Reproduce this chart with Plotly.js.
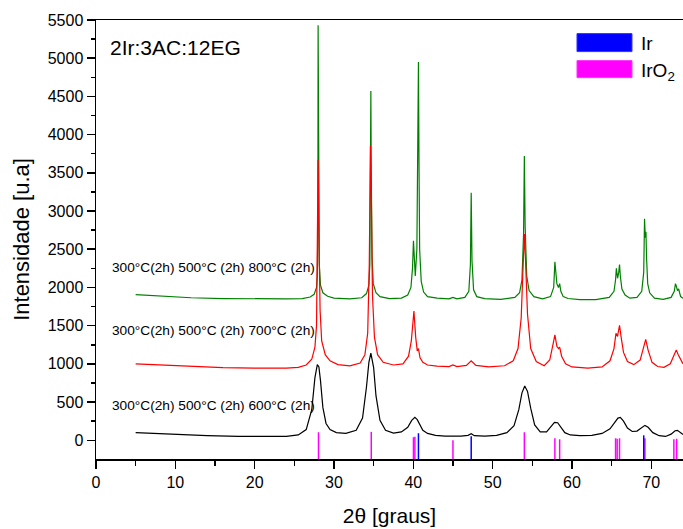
<!DOCTYPE html>
<html>
<head>
<meta charset="utf-8">
<script src="https://cdn.plot.ly/plotly-3.0.1.min.js"></script>
<style>html,body{margin:0;padding:0;background:#fff;}#chart{width:683px;height:529px;}</style>
</head>
<body>
<div id="chart"></div>
<script>
// ---- Data (2θ in degrees, intensity in a.u., offset as plotted) ----
const x800 = [5,8,12,16,20,24,26,27,27.5,27.8,27.9,27.97,28.0,28.05,28.15,28.3,28.6,29.2,30,32,33.5,34.1,34.4,34.52,34.6,34.65,34.7,34.8,34.95,35.3,35.8,37,38.5,39.3,39.7,39.9,40.02,40.08,40.15,40.25,40.45,40.55,40.65,40.72,40.8,41.0,41.3,41.8,43,44.5,45,45.5,46.5,47.0,47.2,47.3,47.4,47.6,48.0,49,51,52.8,53.4,53.7,53.9,54.0,54.1,54.3,54.6,55.2,56.3,57.3,57.7,57.85,57.95,58.1,58.3,58.45,58.6,58.9,59.5,61,63,64.7,65.3,65.5,65.6,65.75,65.9,66.0,66.1,66.3,66.7,67.3,68.2,68.8,69.05,69.15,69.25,69.33,69.4,69.55,69.8,70.4,71.5,72.5,72.9,73.05,73.15,73.3,73.45,73.7,74];
const y800 = [1905,1885,1865,1855,1850,1850,1855,1875,1910,2000,2150,2800,5430,3400,2300,2030,1930,1885,1860,1850,1865,1920,2030,2300,3200,4570,3500,2400,2050,1930,1880,1855,1860,1900,2000,2250,2610,2450,2200,2150,2500,3500,4950,3600,2500,2080,1940,1880,1860,1850,1870,1850,1870,1950,2300,3240,2350,1970,1880,1855,1845,1870,1930,2100,2700,3720,2800,2150,1960,1880,1850,1880,2000,2335,2200,2050,2000,2050,1950,1880,1855,1840,1840,1870,1950,2100,2250,2120,2200,2300,2150,1980,1900,1860,1870,1950,2200,2900,2650,2730,2400,2050,1930,1860,1845,1870,1950,2050,2020,1960,1980,1880,1860];

const x700 = [5,8,12,16,20,24,25.5,26.5,27.2,27.6,27.8,27.92,28.0,28.1,28.25,28.45,28.9,29.5,30.5,32,33.3,33.9,34.25,34.45,34.6,34.7,34.85,35.1,35.5,36.2,37.5,38.7,39.4,39.75,39.95,40.08,40.3,40.5,40.65,40.85,41.2,41.8,43,44.5,45,45.5,46.7,47.3,47.9,49.5,51.5,52.6,53.2,53.6,53.85,54.0,54.15,54.4,54.8,55.5,56.5,57.2,57.6,57.85,58.1,58.3,58.45,58.7,59.2,60,62,63.8,64.8,65.3,65.55,65.75,65.85,66.0,66.2,66.5,67.0,67.8,68.6,69.0,69.3,69.6,70.1,70.8,71.6,72.4,72.9,73.15,73.4,73.7,74];
const y700 = [1000,985,965,950,945,945,955,985,1060,1220,1500,2500,3670,2700,1700,1300,1120,1040,990,975,1010,1120,1400,2300,3850,3300,1900,1350,1120,1020,985,1000,1100,1300,1600,1690,1350,1170,1200,1080,1020,985,970,965,985,965,980,1040,980,960,975,1040,1200,1600,2300,2700,2350,1650,1200,1030,975,1050,1250,1380,1230,1200,1220,1100,1000,960,945,960,1040,1200,1400,1360,1420,1505,1350,1150,1030,990,1050,1200,1320,1180,1020,965,955,1000,1120,1180,1120,1060,1000];

const x600 = [5,7,10,14,18,22,24,25.5,26.5,27.2,27.6,27.9,28.1,28.3,28.6,29.0,29.5,30.3,31.5,32.8,33.6,34.1,34.4,34.65,35.0,35.3,35.8,36.5,37.5,38.5,39.3,39.8,40.2,40.5,40.8,41.2,41.8,42.8,44,46,46.9,47.3,47.7,49,50.5,51.8,52.7,53.3,53.7,54.05,54.4,54.8,55.3,56,56.8,57.4,57.8,58.2,58.6,59.1,59.8,61,62.5,63.8,64.8,65.4,65.8,66.1,66.5,67.0,67.6,68.2,68.7,69.2,69.6,70.2,71,71.8,72.5,73.0,73.3,73.7,74];
const y600 = [100,90,75,60,50,45,50,70,140,400,820,990,960,780,430,220,140,100,90,130,290,700,1020,1140,950,580,260,130,95,110,170,260,300,270,200,130,90,65,55,55,65,85,60,55,65,100,190,400,620,710,640,420,200,110,110,180,235,230,170,100,70,60,65,90,150,240,290,300,250,160,115,120,160,195,170,100,60,50,80,125,130,100,75];

// Reference patterns: stick positions (2θ) and stick tops (a.u.)
const irO2Pos = [28.05,34.7,40.02,40.2,45.0,54.0,57.85,58.45,65.5,65.7,66.0,69.2,72.85,73.2];
const irO2Top = [105,110,40,45,0,105,26,13,26,20,26,26,13,20];
const irPos = [40.65,47.3,69.05];
const irTop = [92,52,65];

const series = [
  {name:'800', x:x800, y:y800, color:'#008000'},
  {name:'700', x:x700, y:y700, color:'#ff0000'},
  {name:'600', x:x600, y:y600, color:'#000000'}
];
const curveLabels = ['300°C(2h) 500°C (2h) 800°C (2h)','300°C(2h) 500°C (2h) 700°C (2h)','300°C(2h) 500°C (2h) 600°C (2h)'];
const curveLabelY = [2267,1441,457];

const Y_MIN = -245, Y_MAX = 5500;

function sticks(pos, top, color){
  const xs=[], ys=[];
  pos.forEach((p,i)=>{ xs.push(p,p,null); ys.push(Y_MIN, top[i], null); });
  return {x:xs, y:ys, mode:'lines', line:{color:color, width:1.5}, showlegend:false, hoverinfo:'skip', type:'scatter'};
}

const traces = series.map(s=>({x:s.x, y:s.y, mode:'lines', type:'scatter', line:{color:s.color, width:1.2}, showlegend:false}));
traces.push(sticks(irO2Pos, irO2Top, '#ff00ff'));
traces.push(sticks(irPos, irTop, '#0000ff'));

const FONT = 'Arial, "Liberation Sans", sans-serif';
const annotations = curveLabels.map((t,i)=>({x:1.8, y:curveLabelY[i], xref:'x', yref:'y', text:t, showarrow:false, xanchor:'left', yanchor:'middle', font:{family:FONT, size:13.7, color:'#000'}}));
annotations.push({x:0.0204, y:0.937, xref:'paper', yref:'paper', text:'2Ir:3AC:12EG', showarrow:false, xanchor:'left', yanchor:'middle', font:{family:FONT, size:21, color:'#000'}});
annotations.push({x:0.925, y:0.946, xref:'paper', yref:'paper', text:'Ir', showarrow:false, xanchor:'left', yanchor:'middle', font:{family:FONT, size:19, color:'#000'}});
annotations.push({x:0.925, y:0.882, xref:'paper', yref:'paper', text:'IrO<sub>2</sub>', showarrow:false, xanchor:'left', yanchor:'middle', font:{family:FONT, size:19, color:'#000'}});

const shapes = [
  {type:'rect', xref:'paper', yref:'paper', x0:0.8194, x1:0.9131, y0:0.928, y1:0.969, fillcolor:'#0000ff', line:{color:'#3333ff', width:1}},
  {type:'rect', xref:'paper', yref:'paper', x0:0.8194, x1:0.9131, y0:0.8687, y1:0.9075, fillcolor:'#ff00ff', line:{color:'#ff33ff', width:1}}
];

const layout = {
  width:683, height:529,
  margin:{l:96, r:0, t:20, b:70},
  paper_bgcolor:'#fff', plot_bgcolor:'#fff',
  font:{family:FONT, color:'#000'},
  showlegend:false,
  xaxis:{range:[0,74], tick0:0, dtick:10, ticks:'outside', ticklen:8, tickwidth:1.5, tickcolor:'#000',
    minor:{dtick:5, ticks:'outside', ticklen:5, tickwidth:1.5, tickcolor:'#000'},
    showline:true, linecolor:'#000', linewidth:1.5, mirror:true, showgrid:false, zeroline:false,
    tickfont:{family:FONT, size:16}, title:{text:'2θ [graus]', font:{family:FONT, size:21}, standoff:18}},
  yaxis:{range:[Y_MIN,Y_MAX], tick0:0, dtick:500, ticks:'outside', ticklen:8, tickwidth:1.5, tickcolor:'#000',
    minor:{dtick:250, ticks:'outside', ticklen:4, tickwidth:1.5, tickcolor:'#000'},
    showline:true, linecolor:'#000', linewidth:1.5, showgrid:false, zeroline:false,
    tickfont:{family:FONT, size:16}, title:{text:'Intensidade [u.a]', font:{family:FONT, size:22}, standoff:12}},
  annotations:annotations,
  shapes:shapes
};

Plotly.newPlot('chart', traces, layout, {displayModeBar:false, staticPlot:true});
</script>
</body>
</html>
